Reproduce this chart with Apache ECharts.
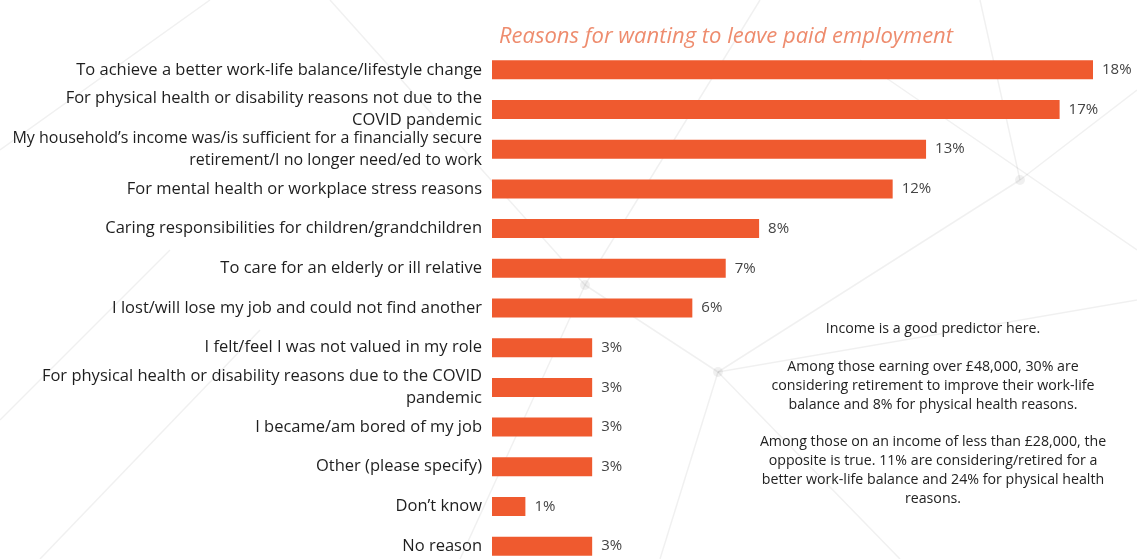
<!DOCTYPE html>
<html>
<head>
<meta charset="utf-8">
<script src="https://cdn.jsdelivr.net/npm/echarts@6/dist/echarts.min.js"></script>
<style>
  html, body { margin: 0; padding: 0; background: #ffffff; }
  #chart { width: 1137px; height: 559px; }
</style>
</head>
<body>
<div id="chart"></div>
<script>
// Reasons, top to bottom
const reasons = [
  'To achieve a better work-life balance/lifestyle change',
  'For physical health or disability reasons not due to the\nCOVID pandemic',
  'My household\u2019s income was/is sufficient for a financially secure\nretirement/I no longer need/ed to work',
  'For mental health or workplace stress reasons',
  'Caring responsibilities for children/grandchildren',
  'To care for an elderly or ill relative',
  'I lost/will lose my job and could not find another',
  'I felt/feel I was not valued in my role',
  'For physical health or disability reasons due to the COVID\npandemic',
  'I became/am bored of my job',
  'Other (please specify)',
  'Don\u2019t know',
  'No reason'
];
// Share of respondents, %
const shares = [18, 17, 13, 12, 8, 7, 6, 3, 3, 3, 3, 1, 3];

const titleText = 'Reasons for wanting to leave paid employment';
const noteLines = [
  'Income is a good predictor here.',
  '',
  'Among those earning over \u00a348,000, 30% are',
  'considering retirement to improve their work-life',
  'balance and 8% for physical health reasons.',
  '',
  'Among those on an income of less than \u00a328,000, the',
  'opposite is true. 11% are considering/retired for a',
  'better work-life balance and 24% for physical health',
  'reasons.'
];

const FONT = '"Open Sans", "Noto Sans", sans-serif';
const BAR = '#EF5A2F';

// Faint network backdrop: strokes and nodes in pixel space
const netLines = [
  [[0, 150], [210, 0]],
  [[0, 420], [170, 250]],
  [[40, 559], [260, 330]],
  [[330, 0], [585, 285]],
  [[585, 285], [718, 372]],
  [[585, 285], [760, 0]],
  [[718, 372], [1137, 300]],
  [[718, 372], [660, 559]],
  [[718, 372], [900, 559]],
  [[718, 372], [1020, 180]],
  [[1020, 180], [1137, 90]],
  [[1020, 180], [980, 0]],
  [[860, 60], [1137, 250]],
  [[460, 559], [585, 285]]
];
const netNodes = [[585, 285], [718, 372], [1020, 180]];

const backdrop = netLines.map(function (seg) {
  return {
    type: 'line',
    silent: true,
    z: -10,
    shape: { x1: seg[0][0], y1: seg[0][1], x2: seg[1][0], y2: seg[1][1] },
    style: { stroke: 'rgba(0,0,0,0.06)', lineWidth: 1.5 }
  };
}).concat(netNodes.map(function (p) {
  return {
    type: 'circle',
    silent: true,
    z: -10,
    shape: { cx: p[0], cy: p[1], r: 5 },
    style: { fill: 'rgba(0,0,0,0.06)' }
  };
}));

const chart = echarts.init(document.getElementById('chart'), null, { renderer: 'canvas' });
chart.setOption({
  backgroundColor: '#ffffff',
  animation: false,
  title: {
    text: titleText,
    left: 721,
    top: 21,
    textAlign: 'center',
    textStyle: {
      fontFamily: FONT,
      fontStyle: 'italic',
      fontWeight: 'normal',
      fontSize: 22,
      color: '#EE8C6E'
    }
  },
  grid: {
    left: 492, top: 50, width: 601, height: 516,
    containLabel: false,
    outerBoundsMode: 'none'
  },
  xAxis: {
    type: 'value',
    min: 0,
    max: 18,
    show: false
  },
  yAxis: {
    type: 'category',
    inverse: true,
    data: reasons,
    axisLine: { show: false },
    axisTick: { show: false },
    splitLine: { show: false },
    axisLabel: {
      margin: 10,
      fontFamily: FONT,
      fontSize: 16.5,
      lineHeight: 22,
      color: '#1e1e1e',
      align: 'right',
      formatter: function (v) {
        // the longest label is set a touch tighter so it stays on the page
        return v.indexOf('household') >= 0 ? '{t|' + v.split('\n').join('}\n{t|') + '}' : v;
      },
      rich: {
        t: { fontFamily: FONT, fontSize: 16, lineHeight: 22, color: '#1e1e1e' }
      }
    }
  },
  series: [{
    type: 'bar',
    data: shares,
    barWidth: 19,
    itemStyle: { color: BAR },
    label: {
      show: true,
      position: 'right',
      distance: 9,
      formatter: '{c}%',
      fontFamily: FONT,
      fontSize: 15,
      color: '#444444'
    }
  }],
  graphic: backdrop.concat([{
    type: 'text',
    x: 933,
    y: 320,
    style: {
      text: noteLines.join('\n'),
      fontFamily: FONT,
      fontSize: 14.2,
      lineHeight: 18.8,
      fill: '#222222',
      align: 'center',
      verticalAlign: 'top'
    }
  }])
});
</script>
</body>
</html>
